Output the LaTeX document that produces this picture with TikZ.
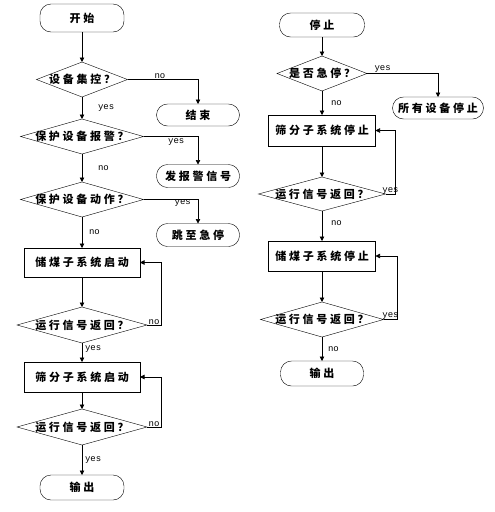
\documentclass[tikz,border=0pt]{standalone}
\usepackage{fontspec}
\setmonofont{Liberation Mono}
\newfontfamily\cjk{Noto Sans CJK SC}[LetterSpace=25]
\usetikzlibrary{arrows.meta,positioning,shapes.geometric}
\begin{document}
\begin{tikzpicture}[x=1pt, y=-1pt,
  every node/.style={inner sep=0pt, outer sep=0pt},
  txt/.style={font={\cjk\bfseries\fontsize{11}{13}\selectfont}},
  term/.style={txt, draw, rounded corners=11pt, minimum width=84pt, minimum height=25pt},
  proc/.style={txt, draw, minimum width=116pt, minimum height=30pt},
  decision/.style={txt, draw, diamond, minimum height=35pt,
    execute at begin node={\hbox to 0pt\bgroup\hss}, execute at end node={\hss\egroup}},
  lbl/.style={font=\ttfamily\fontsize{9}{9}\selectfont},
  arr/.style={-{Triangle[length=4.5pt,width=4.5pt]}, line width=0.7pt}]
\useasboundingbox (0,0) rectangle (495,512);
\node[term, minimum height=28pt] (start) at (82,18) {开始};
\node[decision, minimum width=91pt, below=30pt of start] (ctrl) {设备集控？};
\node[decision, minimum width=123pt, below=22pt of ctrl] (alarm) {保护设备报警？};
\node[decision, minimum width=123pt, below=28pt of alarm] (act) {保护设备动作？};
\node[proc, minimum height=29pt, below=31pt of act] (coal) {储煤子系统启动};
\node[decision, minimum width=130pt, minimum height=36pt, below=30pt of coal] (ret1) {运行信号返回？};
\node[proc, below=19pt of ret1] (sieve) {筛分子系统启动};
\node[decision, minimum width=130pt, minimum height=36pt, below=17pt of sieve] (ret2) {运行信号返回？};
\node[term, below=30pt of ret2] (out1) {输出};
\node[term, minimum width=83pt, minimum height=22pt] (fin) at (198,115) {结束};
\node[term, minimum width=83pt, minimum height=23pt] (warn) at (198,176) {发报警信号};
\node[term, minimum width=83pt, minimum height=23pt] (estop) at (198,235) {跳至急停};
\node[term, minimum width=85pt, minimum height=24pt] (stop) at (322,25) {停止};
\node[decision, minimum width=90pt, below=19pt of stop] (emg) {是否急停？};
\node[proc, minimum width=107pt, minimum height=31pt, below=24pt of emg] (sieveoff) {筛分子系统停止};
\node[decision, minimum width=127pt, minimum height=34pt, below=31pt of sieveoff] (ret3) {运行信号返回？};
\node[proc, minimum width=107pt, below=30pt of ret3] (coaloff) {储煤子系统停止};
\node[decision, minimum width=123pt, below=31pt of coaloff] (ret4) {运行信号返回？};
\node[term, minimum width=83pt, below=24pt of ret4] (out2) {输出};
\node[term, minimum width=91pt, minimum height=22pt] (allstop) at (438,108) {所有设备停止};
\draw[arr] (start) -- (ctrl);
\draw[arr] (ctrl.east) -| node[lbl, pos=.23, above=1pt] {no} (fin);
\draw[arr] (ctrl) -- node[lbl, right=16pt] {yes} (alarm);
\draw[arr] (alarm.east) -| node[lbl, pos=.3, below=2pt] {yes} (warn);
\draw[arr] (alarm) -- node[lbl, right=16pt] {no} (act);
\draw[arr] (act.east) -| node[lbl, pos=.36, below=0pt] {yes} (estop);
\draw[arr] (act) -- node[lbl, right=7pt] {no} (coal);
\draw[arr] (coal) -- (ret1);
\draw[arr] (ret1.east) -- node[lbl, above] {no} ++(14,0) |- (coal.east);
\draw[arr] (ret1) -- node[lbl, right=3pt, pos=.3] {yes} (sieve);
\draw[arr] (sieve) -- (ret2);
\draw[arr] (ret2.east) -- node[lbl, above] {no} ++(14,0) |- (sieve.east);
\draw[arr] (ret2) -- node[lbl, right=3pt] {yes} (out1);
\draw[arr] (stop) -- (emg);
\draw[arr] (emg.east) -| node[lbl, pos=.11, above=1pt] {yes} (allstop);
\draw[arr] (emg) -- node[lbl, right=9pt] {no} (sieveoff);
\draw[arr] (sieveoff) -- (ret3);
\draw[arr] (ret3.east) -- node[lbl, above] {yes} ++(10,0) |- (sieveoff.east);
\draw[arr] (ret3) -- node[lbl, right=9pt, pos=.4] {no} (coaloff);
\draw[arr] (coaloff) -- (ret4);
\draw[arr] (ret4.east) -- node[lbl, above] {yes} ++(14,0) |- (coaloff.east);
\draw[arr] (ret4) -- node[lbl, right=6pt] {no} (out2);
\end{tikzpicture}
\end{document}
